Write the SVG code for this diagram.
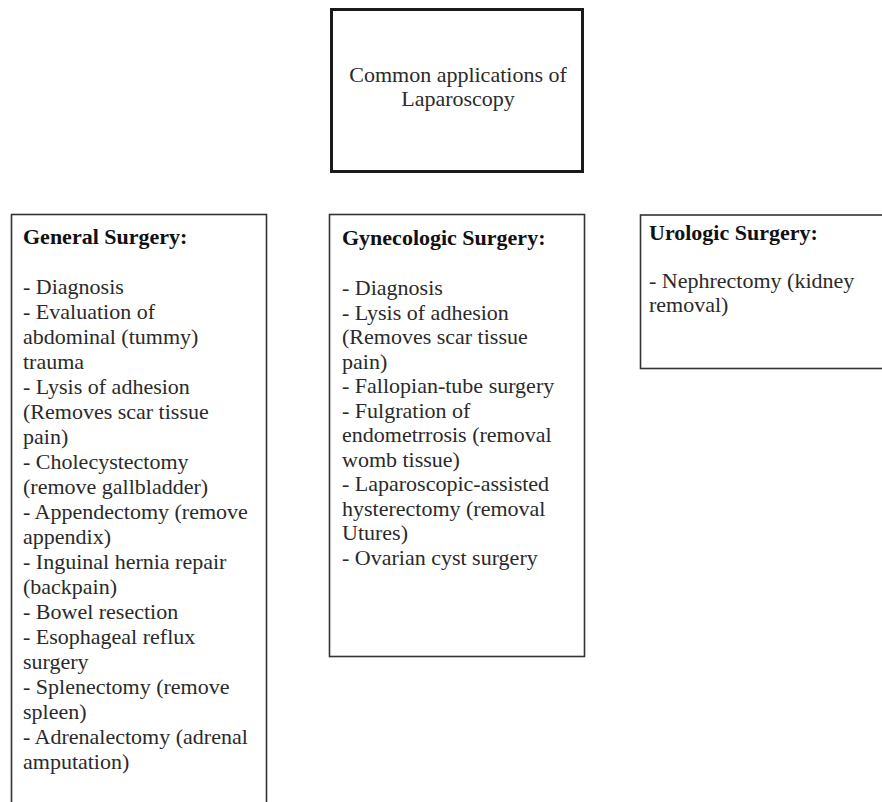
<svg xmlns="http://www.w3.org/2000/svg" width="882" height="802" viewBox="0 0 882 802">
  <style>
    .box { fill: #ffffff; stroke: #333333; stroke-width: 1.6; }
    .root { fill: #ffffff; stroke: #1a1a1a; stroke-width: 3; }
    .txt { font-family: "Liberation Serif", "Times New Roman", serif; font-size: 22px; fill: #2a2a2a; }
    .head { font-weight: bold; fill: #111111; }
  </style>
  <rect width="882" height="802" fill="#ffffff"/>

  <g id="root-node">
    <rect class="root" x="331.5" y="9.5" width="251" height="162"/>
    <text class="txt" x="458" y="82" text-anchor="middle">Common applications of</text>
    <text class="txt" x="458" y="106" text-anchor="middle">Laparoscopy</text>
  </g>

  <g id="general-surgery">
    <rect class="box" x="11.5" y="214.5" width="255" height="600"/>
    <text class="txt head" x="23" y="244">General Surgery:</text>
    <text class="txt" x="23" y="294">
      <tspan x="23" y="294">- Diagnosis</tspan>
      <tspan x="23" y="319">- Evaluation of</tspan>
      <tspan x="23" y="344">abdominal (tummy)</tspan>
      <tspan x="23" y="369">trauma</tspan>
      <tspan x="23" y="394">- Lysis of adhesion</tspan>
      <tspan x="23" y="419">(Removes scar tissue</tspan>
      <tspan x="23" y="444">pain)</tspan>
      <tspan x="23" y="469">- Cholecystectomy</tspan>
      <tspan x="23" y="494">(remove gallbladder)</tspan>
      <tspan x="23" y="519">- Appendectomy (remove</tspan>
      <tspan x="23" y="544">appendix)</tspan>
      <tspan x="23" y="569">- Inguinal hernia repair</tspan>
      <tspan x="23" y="594">(backpain)</tspan>
      <tspan x="23" y="619">- Bowel resection</tspan>
      <tspan x="23" y="644">- Esophageal reflux</tspan>
      <tspan x="23" y="669">surgery</tspan>
      <tspan x="23" y="694">- Splenectomy (remove</tspan>
      <tspan x="23" y="719">spleen)</tspan>
      <tspan x="23" y="744">- Adrenalectomy (adrenal</tspan>
      <tspan x="23" y="769">amputation)</tspan>
    </text>
  </g>

  <g id="gynecologic-surgery">
    <rect class="box" x="329.5" y="214.5" width="255" height="442"/>
    <text class="txt head" x="342" y="245">Gynecologic Surgery:</text>
    <text class="txt" x="342" y="295">
      <tspan x="342" y="295">- Diagnosis</tspan>
      <tspan x="342" y="319.5">- Lysis of adhesion</tspan>
      <tspan x="342" y="344">(Removes scar tissue</tspan>
      <tspan x="342" y="368.5">pain)</tspan>
      <tspan x="342" y="393">- Fallopian-tube surgery</tspan>
      <tspan x="342" y="417.5">- Fulgration of</tspan>
      <tspan x="342" y="442">endometrrosis (removal</tspan>
      <tspan x="342" y="466.5">womb tissue)</tspan>
      <tspan x="342" y="491">- Laparoscopic-assisted</tspan>
      <tspan x="342" y="515.5">hysterectomy (removal</tspan>
      <tspan x="342" y="540">Utures)</tspan>
      <tspan x="342" y="564.5">- Ovarian cyst surgery</tspan>
    </text>
  </g>

  <g id="urologic-surgery">
    <rect class="box" x="640.5" y="215" width="260" height="153.5"/>
    <text class="txt head" x="649" y="240">Urologic Surgery:</text>
    <text class="txt" x="649" y="288">
      <tspan x="649" y="288">- Nephrectomy (kidney</tspan>
      <tspan x="649" y="312">removal)</tspan>
    </text>
  </g>

  <g id="connectors"></g>
</svg>
